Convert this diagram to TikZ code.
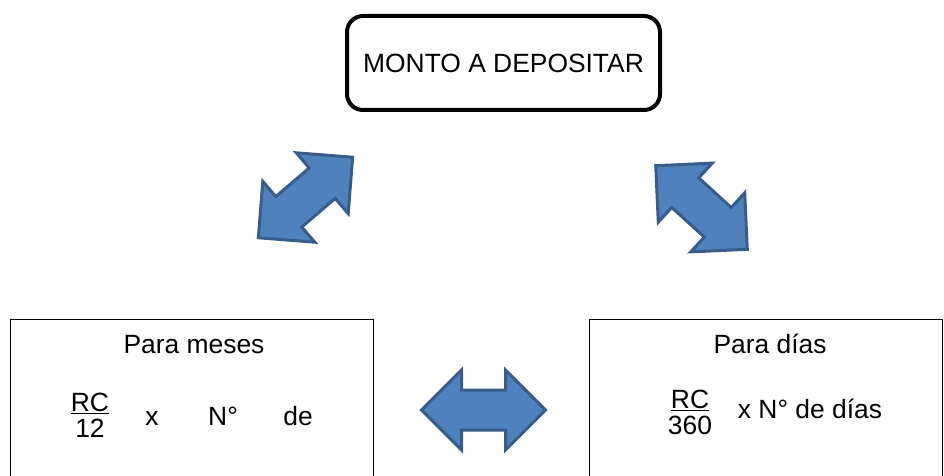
\documentclass[tikz,border=0pt]{standalone}
\usepackage{fontspec}
\setmainfont{Liberation Sans}
\usetikzlibrary{shapes.arrows}
\usetikzlibrary{positioning}
\definecolor{flechaRelleno}{HTML}{4F81BD}
\definecolor{flechaBorde}{HTML}{385D8A}

\begin{document}
\begin{tikzpicture}[x=1pt, y=-1pt,                                          % One unit per pixel
	every node/.style = {font=\fontsize{26.4}{26}\selectfont, inner sep=0pt},   % Text settings
	titulo/.style = {draw, line width=4pt, rounded corners=16pt,
	                 minimum width=313pt, minimum height=94pt},
	caso/.style = {draw, line width=1pt, minimum height=240pt},
	flecha/.style = {double arrow, draw=flechaBorde, fill=flechaRelleno, line width=3pt,
	                 inner ysep=18.5pt, minimum height=124pt, minimum width=77pt,
	                 double arrow head extend=20pt}]
	\useasboundingbox (0,0) rectangle (944,476);
	\clip (0,0) rectangle (944,476);
	\node[titulo] (M) at (503.5,63) {MONTO A DEPOSITAR};
	\node[caso, minimum width=363pt] (Cm) at (191.5,439) {};
	\node[caso, minimum width=353pt] (Cd) at (765.5,439) {};
	\node[flecha, rotate=40.5] (F1) at (305.5,197.5) {};
	\node[flecha, rotate=-42.4] (F2) at (701.5,207.5) {};
	\node[flecha] (F3) at (483.5,410) {};
	% Para meses
	\node[anchor=base] (Pm) at (194,353) {Para meses};
	\node[align=center] (Qm) at (90,415.5) {\underline{RC}\\12};
	\node[anchor=base] (Xm) at (152,425) {x};
	\node[anchor=base] (Nm) at (223,425) {N°};
	\node[anchor=base] (Dm) at (298,425) {de};
	% Para dias
	\node[anchor=base] (Pd) at (770,353) {Para días};
	\node[align=center] (Qd) at (690,412) {\underline{RC}\\360};
	\node[anchor=base] (Xd) at (810,418) {x N° de días};
\end{tikzpicture}
\end{document}
